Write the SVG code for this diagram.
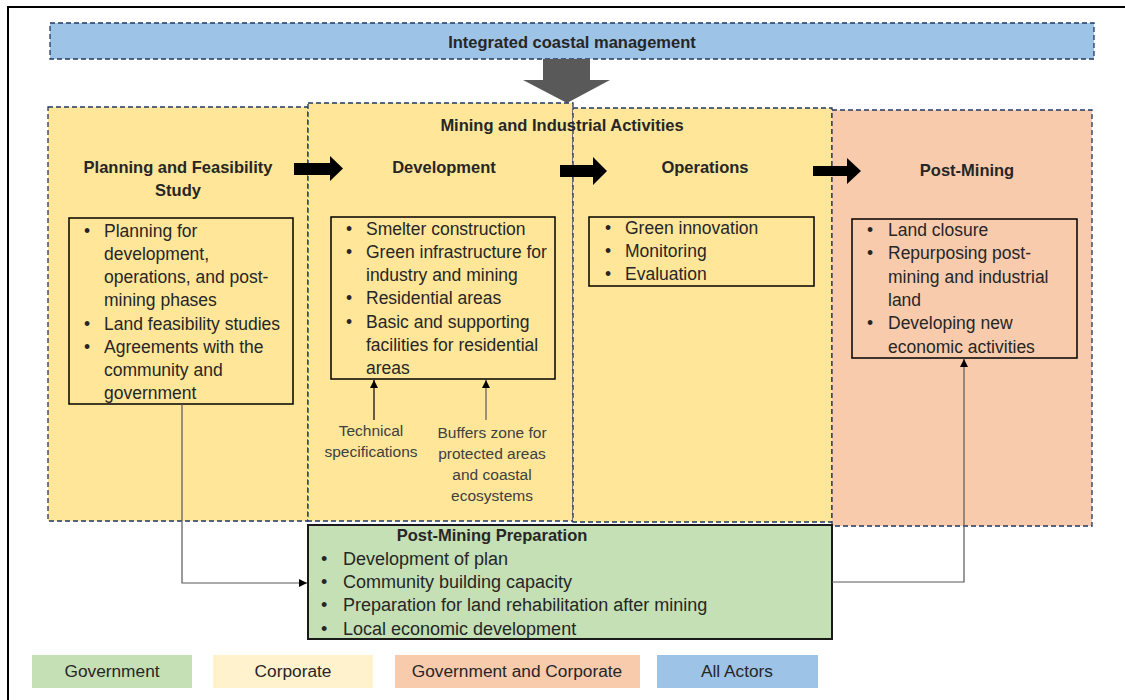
<svg xmlns="http://www.w3.org/2000/svg" width="1125" height="700" viewBox="0 0 1125 700">
<style>
.panel{stroke:#203864;stroke-width:1.3;stroke-dasharray:5 3}
.yel{fill:#FFE699}
.peach{fill:#F8CBAD}
.box{fill:none;stroke:#000;stroke-width:1.5}
.t{font-family:"Liberation Sans",Arial,sans-serif;font-size:17.5px;fill:#262626}
.g{font-family:"Liberation Sans",Arial,sans-serif;font-size:18px;fill:#262626}
.b{font-family:"Liberation Sans",Arial,sans-serif;font-size:16.5px;font-weight:bold;fill:#262626;text-anchor:middle}
.s{font-family:"Liberation Sans",Arial,sans-serif;font-size:15.5px;fill:#404040;text-anchor:middle}
.lg{font-family:"Liberation Sans",Arial,sans-serif;font-size:17.3px;fill:#262626;text-anchor:middle}
.conn{fill:none;stroke:#595959;stroke-width:1.2}
.blk{fill:#000}
</style>
<defs>
<marker id="ah" viewBox="0 0 10 10" refX="10" refY="5" markerWidth="8" markerHeight="8" markerUnits="userSpaceOnUse" orient="auto">
<path d="M0,0 L10,5 L0,10 z" fill="#000"/>
</marker>
</defs>
<rect x="8" y="7" width="1140" height="720" fill="none" stroke="#000" stroke-width="2"/>

<g id="icm">
<rect x="50" y="23" width="1044" height="36" fill="#9DC3E6" class="panel"/>
<text class="b" x="572" y="48">Integrated coastal management</text>
</g>

<g id="big-arrow">
<polygon points="543,59 590,59 590,80 610,80 567,103 523,80 543,80" fill="#595959"/>
</g>

<g id="planning">
<rect x="48" y="107" width="260" height="414" class="panel yel"/>
<text class="b" x="178" y="173">Planning and Feasibility</text>
<text class="b" x="178" y="196">Study</text>
<rect x="69" y="218" width="224" height="186" class="box"/>
<g class="t">
<text x="84" y="237">•</text><text x="104" y="237">Planning for</text>
<text x="104" y="260">development,</text>
<text x="104" y="283">operations, and post-</text>
<text x="104" y="306">mining phases</text>
<text x="84" y="330">•</text><text x="104" y="330">Land feasibility studies</text>
<text x="84" y="353">•</text><text x="104" y="353">Agreements with the</text>
<text x="104" y="376">community and</text>
<text x="104" y="399">government</text>
</g>
</g>

<g id="development">
<rect x="308" y="103" width="265" height="418" class="panel yel"/>
<text class="b" x="444" y="173">Development</text>
<rect x="331" y="217" width="224" height="162" class="box"/>
<g class="t">
<text x="346" y="235">•</text><text x="366" y="235">Smelter construction</text>
<text x="346" y="258">•</text><text x="366" y="258">Green infrastructure for</text>
<text x="366" y="281">industry and mining</text>
<text x="346" y="304">•</text><text x="366" y="304">Residential areas</text>
<text x="346" y="328">•</text><text x="366" y="328">Basic and supporting</text>
<text x="366" y="351">facilities for residential</text>
<text x="366" y="374">areas</text>
</g>
<text class="s" x="371" y="436">Technical</text>
<text class="s" x="371" y="457">specifications</text>
<text class="s" x="492" y="438">Buffers zone for</text>
<text class="s" x="492" y="459">protected areas</text>
<text class="s" x="492" y="480">and coastal</text>
<text class="s" x="492" y="501">ecosystems</text>
</g>

<g id="operations">
<rect x="573" y="108" width="259" height="414" class="panel yel"/>
<text class="b" x="705" y="173">Operations</text>
<rect x="589" y="217" width="225" height="69" class="box"/>
<g class="t">
<text x="605" y="234">•</text><text x="625" y="234">Green innovation</text>
<text x="605" y="257">•</text><text x="625" y="257">Monitoring</text>
<text x="605" y="280">•</text><text x="625" y="280">Evaluation</text>
</g>
</g>

<g id="mining-industrial">
<text class="b" x="562" y="131">Mining and Industrial Activities</text>
</g>

<g id="post-mining">
<rect x="832" y="110" width="260" height="416" class="panel peach"/>
<text class="b" x="967" y="176">Post-Mining</text>
<rect x="852" y="219" width="225" height="139" class="box"/>
<g class="t">
<text x="867" y="236">•</text><text x="888" y="236">Land closure</text>
<text x="867" y="259">•</text><text x="888" y="259">Repurposing post-</text>
<text x="888" y="283">mining and industrial</text>
<text x="888" y="306">land</text>
<text x="867" y="329">•</text><text x="888" y="329">Developing new</text>
<text x="888" y="353">economic activities</text>
</g>
</g>

<g id="post-mining-preparation">
<rect x="308" y="525" width="524" height="114" fill="#C5E0B4" stroke="#1a1a1a" stroke-width="2"/>
<text class="b" x="492" y="541">Post-Mining Preparation</text>
<g class="g">
<text x="321" y="565">•</text><text x="343" y="565">Development of plan</text>
<text x="321" y="588">•</text><text x="343" y="588">Community building capacity</text>
<text x="321" y="611">•</text><text x="343" y="611">Preparation for land rehabilitation after mining</text>
<text x="321" y="635">•</text><text x="343" y="635">Local economic development</text>
</g>
</g>

<g id="connectors">
<polygon class="blk" points="294,163 330,163 330,156 343,168.5 330,181 330,175 294,175"/>
<polygon class="blk" points="560,165 593,165 593,157 607,171 593,185 593,177 560,177"/>
<polygon class="blk" points="813,166 847,166 847,158 861,171 847,184 847,176 813,176"/>
<line x1="374" y1="420" x2="374" y2="380" stroke="#000" stroke-width="1.2" marker-end="url(#ah)"/>
<line x1="486" y1="420" x2="486" y2="380" stroke="#595959" stroke-width="1.2" marker-end="url(#ah)"/>
<polyline class="conn" points="182,404 182,583 307,583" marker-end="url(#ah)"/>
<polyline class="conn" points="832,582 964,582 964,359" marker-end="url(#ah)"/>
</g>

<g id="legend">
<rect x="32" y="655" width="160" height="33" fill="#C5E0B4"/>
<text class="lg" x="112" y="677">Government</text>
<rect x="213" y="655" width="160" height="33" fill="#FFF2CC"/>
<text class="lg" x="293" y="677">Corporate</text>
<rect x="395" y="655" width="245" height="33" fill="#F8CBAD"/>
<text class="lg" x="517" y="677">Government and Corporate</text>
<rect x="657" y="655" width="161" height="33" fill="#9DC3E6"/>
<text class="lg" x="737" y="677">All Actors</text>
</g>
</svg>
